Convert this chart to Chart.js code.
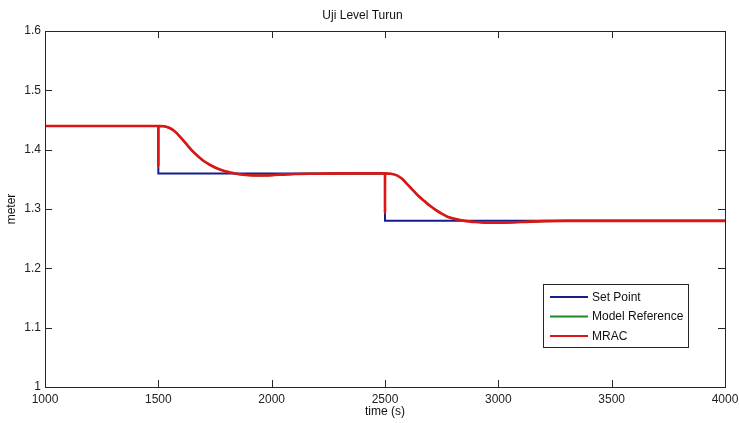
<!DOCTYPE html>
<html>
<head>
<meta charset="utf-8">
<script src="https://cdn.jsdelivr.net/npm/chart.js@4/dist/chart.umd.min.js"></script>
<style>
  html, body { margin: 0; padding: 0; background: #fff; }
</style>
</head>
<body>
<canvas id="chart" width="739" height="423"></canvas>
<script>
// Set point (step changes)
const setPointTime = [1000, 1500, 1500, 2500, 2500, 4000]
const setPointLevel = [1.44, 1.44, 1.36, 1.36, 1.28, 1.28]

// Model reference response
const refTime = [1000, 1500, 1525, 1550, 1575, 1600, 1625, 1650, 1675, 1700, 1725, 1750, 1775, 1800, 1825, 1850, 1900, 1950, 2000, 2050, 2100, 2200, 2300,
  2500, 2525, 2550, 2575, 2600, 2625, 2650, 2675, 2700, 2725, 2750, 2775, 2800, 2825, 2850, 2900, 2950, 3000, 3100, 3200, 3300, 4000]
const refLevel = [1.44, 1.44, 1.4395, 1.4365, 1.430, 1.420, 1.409, 1.398, 1.389, 1.381, 1.375, 1.370, 1.366, 1.363, 1.361, 1.359, 1.357, 1.3565, 1.357, 1.358, 1.359, 1.3595, 1.36,
  1.36, 1.3595, 1.357, 1.351, 1.341, 1.331, 1.321, 1.313, 1.305, 1.298, 1.292, 1.287, 1.284, 1.282, 1.280, 1.278, 1.277, 1.277, 1.278, 1.2795, 1.28, 1.28]

// MRAC output (follows the model, with a dip at each step)
const mracTime = [1000, 1499.9, 1500, 1500.1, 1525, 1550, 1575, 1600, 1625, 1650, 1675, 1700, 1725, 1750, 1775, 1800, 1825, 1850, 1900, 1950, 2000, 2050, 2100, 2200, 2300,
  2499.9, 2500, 2500.1, 2525, 2550, 2575, 2600, 2625, 2650, 2675, 2700, 2725, 2750, 2775, 2800, 2825, 2850, 2900, 2950, 3000, 3100, 3200, 3300, 4000]
const mracLevel = [1.44, 1.44, 1.372, 1.44, 1.4395, 1.4365, 1.430, 1.420, 1.409, 1.398, 1.389, 1.381, 1.375, 1.370, 1.366, 1.363, 1.361, 1.359, 1.357, 1.3565, 1.357, 1.358, 1.359, 1.3595, 1.36,
  1.36, 1.293, 1.36, 1.3595, 1.357, 1.351, 1.341, 1.331, 1.321, 1.313, 1.305, 1.298, 1.292, 1.287, 1.284, 1.282, 1.280, 1.278, 1.277, 1.277, 1.278, 1.2795, 1.28, 1.28]

const xTicks = [1000, 1500, 2000, 2500, 3000, 3500, 4000]
const yTicks = [1, 1.1, 1.2, 1.3, 1.4, 1.5, 1.6]

const toPoints = (xs, ys) => xs.map((x, i) => ({x: x, y: ys[i]}))

const FONT = 'Liberation Sans, Arial, sans-serif'
const INK = '#262626'

// MATLAB style box, inward ticks and legend inside the axes
const matlabAxes = {
  id: 'matlabAxes',
  afterDraw(chart) {
    const ctx = chart.ctx
    const a = chart.chartArea
    const xs = chart.scales.x
    const ys = chart.scales.y
    const tl = 7
    ctx.save()
    ctx.strokeStyle = INK
    ctx.lineWidth = 1
    ctx.strokeRect(Math.round(a.left) + 0.5, Math.round(a.top) + 0.5, Math.round(a.right - a.left), Math.round(a.bottom - a.top))
    ctx.beginPath()
    xTicks.forEach(v => {
      const px = Math.round(xs.getPixelForValue(v)) + 0.5
      ctx.moveTo(px, a.bottom); ctx.lineTo(px, a.bottom - tl)
      ctx.moveTo(px, a.top); ctx.lineTo(px, a.top + tl)
    })
    yTicks.forEach(v => {
      const py = Math.round(ys.getPixelForValue(v)) + 0.5
      ctx.moveTo(a.left, py); ctx.lineTo(a.left + tl, py)
      ctx.moveTo(a.right, py); ctx.lineTo(a.right - tl, py)
    })
    ctx.stroke()

    // legend
    const bx = 543.5, by = 284.5, bw = 145, bh = 63
    ctx.fillStyle = '#fff'
    ctx.fillRect(bx, by, bw, bh)
    ctx.strokeStyle = INK
    ctx.strokeRect(bx, by, bw, bh)
    ctx.font = '12px ' + FONT
    ctx.textBaseline = 'middle'
    ctx.textAlign = 'left'
    chart.data.datasets.forEach((ds, i) => {
      const y = 297 + i * 19.5
      ctx.strokeStyle = ds.borderColor
      ctx.lineWidth = 2
      ctx.beginPath()
      ctx.moveTo(550, y); ctx.lineTo(588, y)
      ctx.stroke()
      ctx.fillStyle = '#111'
      ctx.fillText(ds.label, 592, y + 0.5)
    })
    ctx.restore()
  }
}

new Chart(document.getElementById('chart'), {
  type: 'line',
  data: {
    datasets: [{
      label: 'Set Point',
      data: toPoints(setPointTime, setPointLevel),
      borderColor: '#121f8c',
      borderWidth: 2,
      pointRadius: 0,
      order: 3
    }, {
      label: 'Model Reference',
      data: toPoints(refTime, refLevel),
      borderColor: '#1c8a22',
      borderWidth: 2,
      pointRadius: 0,
      cubicInterpolationMode: 'monotone',
      order: 2
    }, {
      label: 'MRAC',
      data: toPoints(mracTime, mracLevel),
      borderColor: '#dc1616',
      borderWidth: 2.6,
      pointRadius: 0,
      cubicInterpolationMode: 'monotone',
      order: 1
    }]
  },
  options: {
    responsive: false,
    animation: false,
    devicePixelRatio: 1,
    layout: { padding: { left: 0, right: 14, top: 0, bottom: 0 } },
    plugins: {
      legend: { display: false },
      tooltip: { enabled: false },
      title: {
        display: true,
        text: 'Uji Level Turun',
        color: '#111',
        font: { family: FONT, size: 12, weight: 'normal' },
        padding: { top: 8, bottom: 8.6 }
      }
    },
    scales: {
      x: {
        type: 'linear',
        min: 1000,
        max: 4000,
        afterBuildTicks: s => { s.ticks = xTicks.map(v => ({value: v})) },
        afterFit: s => { s.height = 36; s.paddingLeft = 0; s.paddingRight = 0 },
        grid: { display: false, drawTicks: false, tickLength: 0 },
        border: { display: false },
        ticks: { color: '#222', font: { family: FONT, size: 12 }, padding: 5, maxRotation: 0, autoSkip: false, callback: v => String(v) },
        title: { display: true, text: 'time (s)', color: '#111', font: { family: FONT, size: 12 }, padding: { top: 0, bottom: 4 } }
      },
      y: {
        min: 1,
        max: 1.6,
        afterBuildTicks: s => { s.ticks = yTicks.map(v => ({value: v})) },
        afterFit: s => { s.width = 45; s.paddingTop = 0; s.paddingBottom = 0 },
        grid: { display: false, drawTicks: false, tickLength: 0 },
        border: { display: false },
        ticks: { color: '#222', font: { family: FONT, size: 12 }, padding: 4, callback: v => String(Math.round(v * 10) / 10) },
        title: { display: true, text: 'meter', color: '#111', font: { family: FONT, size: 12 }, padding: { top: 4, bottom: 0 } }
      }
    }
  },
  plugins: [matlabAxes]
})
</script>
</body>
</html>
